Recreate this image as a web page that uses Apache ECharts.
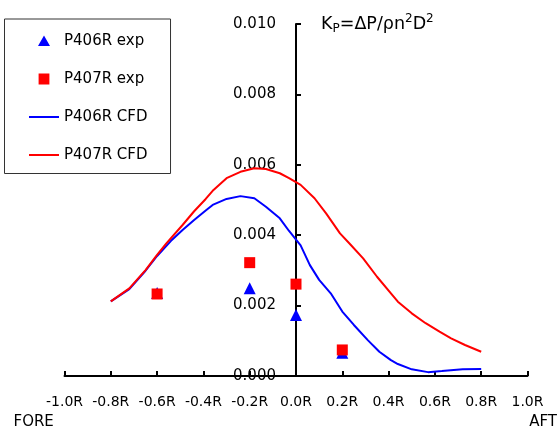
<!DOCTYPE html>
<html><head><meta charset="utf-8">
<script src="https://cdn.jsdelivr.net/npm/echarts@6/dist/echarts.min.js"></script>
<style>html,body{margin:0;padding:0;background:#fff}#c{width:557px;height:435px}</style>
</head><body><div id="c"></div>
<script>
// ---- data ----
const seriesNames = ['P406R exp', 'P407R exp', 'P406R CFD', 'P407R CFD'];
const expX = [-0.6, -0.2, 0.0, 0.2];
const exp406 = [0.00236, 0.00249, 0.00173, 0.00066];
const exp407 = [0.00233, 0.00322, 0.00261, 0.00074];

const cfd406X = [-0.80, -0.72, -0.65, -0.60, -0.54, -0.49, -0.44, -0.39, -0.36, -0.30, -0.24, -0.18, -0.13, -0.07, -0.03, 0.02, 0.06, 0.10, 0.15, 0.20, 0.25, 0.31, 0.36, 0.41, 0.44, 0.50, 0.57, 0.63, 0.72, 0.80];
const cfd406  = [0.00212, 0.00247, 0.00299, 0.00341, 0.00384, 0.00415, 0.00443, 0.00470, 0.00486, 0.00503, 0.00511, 0.00505, 0.00481, 0.00448, 0.00412, 0.00371, 0.00315, 0.00273, 0.00235, 0.00183, 0.00145, 0.00102, 0.00069, 0.00045, 0.00034, 0.00019, 0.00011, 0.00014, 0.00019, 0.00020];

const cfd407X = [-0.80, -0.72, -0.65, -0.60, -0.56, -0.49, -0.44, -0.39, -0.36, -0.30, -0.24, -0.18, -0.13, -0.07, -0.03, 0.02, 0.08, 0.13, 0.19, 0.23, 0.29, 0.35, 0.41, 0.44, 0.50, 0.56, 0.62, 0.67, 0.73, 0.80];
const cfd407  = [0.00212, 0.00249, 0.00301, 0.00344, 0.00377, 0.00429, 0.00468, 0.00503, 0.00526, 0.00562, 0.00580, 0.00590, 0.00588, 0.00576, 0.00562, 0.00543, 0.00505, 0.00462, 0.00405, 0.00377, 0.00334, 0.00282, 0.00235, 0.00211, 0.00178, 0.00150, 0.00126, 0.00107, 0.00088, 0.00069];

const xMin = -1.0, xMax = 1.0, xStep = 0.2;
const yMin = 0, yMax = 0.010, yStep = 0.002;
const xLabelSuffix = 'R';

const zip = (xs, ys) => xs.map((x, i) => [x, ys[i]]);
const FONT = 'DejaVu Sans';
const BLUE = '#0000ff', RED = '#ff0000';

// legend icons (drawn in a 30x12 box; corner dots fix the bounding box)
const BOX = ' M0,0L0.01,0L0.01,0.01Z M30,12L29.99,12L29.99,11.99Z';
const ICON_TRI = 'path://M15,0.5L21,11L9,11Z' + BOX;
const ICON_SQR = 'path://M9.6,0.6L20.4,0.6L20.4,11.4L9.6,11.4Z' + BOX;
const ICON_LINE = 'path://M0,5.1L30,5.1L30,6.9L0,6.9Z' + BOX;

const chart = echarts.init(document.getElementById('c'), null, {renderer: 'canvas'});
chart.setOption({
  animation: false,
  backgroundColor: '#fff',
  grid: {left: 64.5, right: 29.5, top: 24, bottom: 59, containLabel: false},
  xAxis: {
    type: 'value', min: xMin, max: xMax, interval: xStep,
    axisLine: {onZero: true, lineStyle: {color: '#000', width: 2}},
    axisTick: {inside: true, length: 5, lineStyle: {color: '#000', width: 2}},
    splitLine: {show: false},
    axisLabel: {
      margin: 19, color: '#000', fontFamily: FONT, fontSize: 14,
      formatter: v => (Math.abs(v) < 1e-9 ? 0 : v).toFixed(1) + xLabelSuffix
    }
  },
  yAxis: {
    type: 'value', min: yMin, max: yMax, interval: yStep,
    position: 'left', offset: -231.5,
    axisLine: {show: true, onZero: false, lineStyle: {color: '#000', width: 2}},
    axisTick: {show: true, inside: true, length: 5, lineStyle: {color: '#000', width: 2}},
    splitLine: {show: false},
    axisLabel: {
      margin: 20, color: '#000', fontFamily: FONT, fontSize: 15,
      formatter: v => v.toFixed(3)
    }
  },
  legend: {
    orient: 'vertical', left: 4.5, top: 19,
    itemWidth: 30, itemHeight: 12, itemGap: 23,
    padding: [14.5, 23, 11, 24.5],
    borderColor: '#333', borderWidth: 1,
    textStyle: {fontFamily: FONT, fontSize: 15, color: '#000'},
    data: [
      {name: seriesNames[0], icon: ICON_TRI},
      {name: seriesNames[1], icon: ICON_SQR},
      {name: seriesNames[2], icon: ICON_LINE},
      {name: seriesNames[3], icon: ICON_LINE}
    ]
  },
  graphic: [
    {type: 'text', x: 321, y: 24, z: 10,
     style: {
       text: '{m|K}{s|P}{m|=ΔP/ρn}{p|2}{m|D}{p|2}',
       verticalAlign: 'middle', textVerticalAlign: 'middle', fill: '#000',
       rich: {
         m: {fontFamily: FONT, fontSize: 17.5, lineHeight: 22, verticalAlign: 'middle', color: '#000'},
         s: {fontFamily: FONT, fontSize: 12, lineHeight: 12, verticalAlign: 'bottom', color: '#000'},
         p: {fontFamily: FONT, fontSize: 12, lineHeight: 12, verticalAlign: 'top', color: '#000'}
       }
     }},
    {type: 'text', x: 13.5, y: 422,
     style: {text: 'FORE', fontFamily: FONT, fontSize: 15, fill: '#000', verticalAlign: 'middle', textVerticalAlign: 'middle'}},
    {type: 'text', x: 557, y: 422,
     style: {text: 'AFT', fontFamily: FONT, fontSize: 15, fill: '#000', align: 'right', textAlign: 'right', verticalAlign: 'middle', textVerticalAlign: 'middle'}}
  ],
  series: [
    {name: seriesNames[2], type: 'line', data: zip(cfd406X, cfd406), symbol: 'none',
     lineStyle: {color: BLUE, width: 2}, itemStyle: {color: BLUE}},
    {name: seriesNames[3], type: 'line', data: zip(cfd407X, cfd407), symbol: 'none',
     lineStyle: {color: RED, width: 2}, itemStyle: {color: RED}},
    {name: seriesNames[0], type: 'scatter', data: zip(expX, exp406), symbol: 'triangle', symbolSize: 12,
     itemStyle: {color: BLUE, opacity: 1}},
    {name: seriesNames[1], type: 'scatter', data: zip(expX, exp407), symbol: 'rect', symbolSize: 11,
     itemStyle: {color: RED, opacity: 1}}
  ]
});
</script>
</body></html>
